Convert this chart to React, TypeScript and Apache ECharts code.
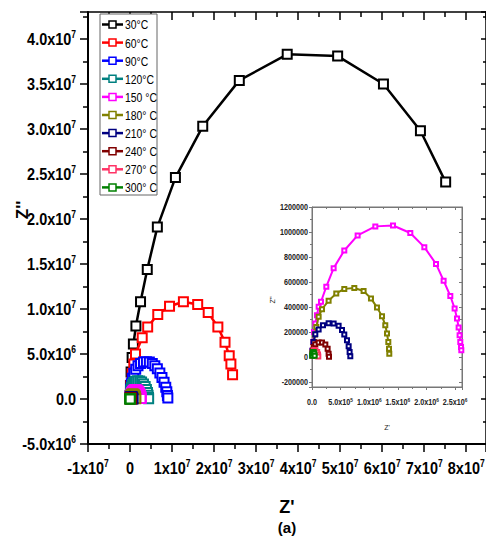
import React, { useEffect, useRef } from "react";
import * as echarts from "echarts";

const seriesNames = ["30°C", "60°C", "90°C", "120°C", "150 °C", "180° C", "210° C", "240° C", "270° C", "300° C"];
const seriesColors = ["#000000", "#ff0000", "#0000ff", "#008080", "#ff00ff", "#808000", "#000080", "#800000", "#ff3366", "#008000"];

// [Z', Z''] pairs
const z30 = [[0.0e6, 0.3e6], [0.1e6, 1.5e6], [0.25e6, 3.0e6], [0.5e6, 4.6e6], [0.8e6, 6.1e6], [1.4e6, 8.1e6], [2.5e6, 10.8e6], [4.1e6, 14.4e6], [6.5e6, 19.1e6], [10.8e6, 24.6e6], [17.3e6, 30.3e6], [26.0e6, 35.4e6], [37.4e6, 38.3e6], [49.4e6, 38.1e6], [60.3e6, 35.0e6], [69.1e6, 29.8e6], [75.1e6, 24.1e6]];
const z60 = [[0.05e6, 0.4e6], [0.2e6, 1.5e6], [0.5e6, 2.8e6], [0.9e6, 3.9e6], [1.3e6, 5.0e6], [2.9e6, 6.8e6], [4.2e6, 8.0e6], [6.6e6, 9.4e6], [9.4e6, 10.3e6], [12.7e6, 10.8e6], [16.1e6, 10.5e6], [18.6e6, 9.6e6], [20.9e6, 8.0e6], [22.6e6, 6.3e6], [23.6e6, 4.8e6], [24.0e6, 3.9e6], [24.4e6, 2.7e6]];
const z90 = [[0.05e6, 0.4e6], [0.15e6, 1.1e6], [0.3e6, 1.7e6], [0.55e6, 2.3e6], [0.9e6, 2.85e6], [1.35e6, 3.3e6], [1.9e6, 3.7e6], [2.5e6, 3.95e6], [3.2e6, 4.1e6], [3.9e6, 4.15e6], [4.6e6, 4.1e6], [5.3e6, 3.95e6], [5.9e6, 3.7e6], [6.5e6, 3.35e6], [7.1e6, 2.9e6], [7.6e6, 2.4e6], [8.1e6, 1.85e6], [8.5e6, 1.3e6], [8.75e6, 0.8e6], [8.9e6, 0.4e6], [9.0e6, 0.1e6]];
const z120 = [[0.05e6, 0.3e6], [0.1e6, 0.7e6], [0.2e6, 1.0e6], [0.35e6, 1.3e6], [0.6e6, 1.6e6], [0.9e6, 1.82e6], [1.3e6, 1.97e6], [1.8e6, 2.03e6], [2.3e6, 2.0e6], [2.75e6, 1.88e6], [3.2e6, 1.66e6], [3.6e6, 1.38e6], [3.9e6, 1.06e6], [4.15e6, 0.72e6], [4.3e6, 0.42e6], [4.4e6, 0.18e6], [4.43e6, 0.04e6]];
const z150 = [[0.01e6, 0.05e6], [0.02e6, 0.12e6], [0.035e6, 0.2e6], [0.058e6, 0.268e6], [0.087e6, 0.335e6], [0.116e6, 0.402e6], [0.157e6, 0.442e6], [0.25e6, 0.563e6], [0.378e6, 0.711e6], [0.564e6, 0.852e6], [0.797e6, 0.973e6], [1.106e6, 1.045e6], [1.415e6, 1.052e6], [1.717e6, 0.992e6], [1.962e6, 0.879e6], [2.166e6, 0.745e6], [2.299e6, 0.611e6], [2.416e6, 0.488e6], [2.491e6, 0.389e6], [2.533e6, 0.309e6], [2.561e6, 0.236e6], [2.578e6, 0.174e6], [2.59e6, 0.121e6], [2.603e6, 0.08e6], [2.608e6, 0.054e6]];
const z180 = [[0.01e6, 0.04e6], [0.03e6, 0.12e6], [0.05e6, 0.18e6], [0.075e6, 0.241e6], [0.116e6, 0.322e6], [0.175e6, 0.383e6], [0.29e6, 0.45e6], [0.424e6, 0.509e6], [0.564e6, 0.545e6], [0.739e6, 0.552e6], [0.901e6, 0.528e6], [1.03e6, 0.469e6], [1.135e6, 0.397e6], [1.223e6, 0.327e6], [1.28e6, 0.255e6], [1.31e6, 0.188e6], [1.333e6, 0.121e6], [1.345e6, 0.067e6], [1.35e6, 0.027e6]];
const z210 = [[0.008e6, 0.05e6], [0.028e6, 0.121e6], [0.058e6, 0.182e6], [0.116e6, 0.22e6], [0.192e6, 0.255e6], [0.29e6, 0.27e6], [0.378e6, 0.268e6], [0.465e6, 0.25e6], [0.524e6, 0.217e6], [0.564e6, 0.18e6], [0.611e6, 0.134e6], [0.64e6, 0.086e6], [0.657e6, 0.04e6], [0.669e6, 0.006e6]];
const z240 = [[0.005e6, 0.014e6], [0.017e6, 0.05e6], [0.03e6, 0.08e6], [0.058e6, 0.102e6], [0.116e6, 0.116e6], [0.175e6, 0.116e6], [0.233e6, 0.1e6], [0.273e6, 0.067e6], [0.29e6, 0.027e6], [0.297e6, 0.002e6]];
const z270 = [[0.005e6, 0.01e6], [0.01e6, 0.035e6], [0.03e6, 0.055e6], [0.06e6, 0.055e6], [0.09e6, 0.04e6], [0.105e6, 0.02e6], [0.11e6, 0.005e6]];
const z300 = [[0.003e6, 0.01e6], [0.008e6, 0.028e6], [0.018e6, 0.04e6], [0.03e6, 0.04e6], [0.04e6, 0.028e6], [0.046e6, 0.01e6]];

const seriesData = [z30, z60, z90, z120, z150, z180, z210, z240, z270, z300];
const insetIndexes = [4, 5, 6, 7, 8, 9];

// tick label values
const mainXTicks = [-1e7, 0, 1e7, 2e7, 3e7, 4e7, 5e7, 6e7, 7e7, 8e7];
const mainYTicks = [-5e6, 0, 5e6, 1e7, 1.5e7, 2e7, 2.5e7, 3e7, 3.5e7, 4e7];
const insetXTicks = [0, 5e5, 1e6, 1.5e6, 2e6, 2.5e6];
const insetYTicks = [-200000, 0, 200000, 400000, 600000, 800000, 1000000, 1200000];

const ARIAL = "'Liberation Sans',Arial,sans-serif";
const MAIN_SCALE = 0.85;
const NARROW_SCALE = 0.8;

const txtMainX = (v: number) => (v === 0 ? "{b|0}" : `{b|${Math.round(v / 1e7)}x10}{s|7}`);
const txtMainY = (v: number) => {
  if (v === 0) return "{b|0.0}";
  const e = Math.abs(v) >= 1e7 ? 7 : 6;
  return `{b|${(v / Math.pow(10, e)).toFixed(1)}x10}{s|${e}}`;
};
const txtInsetX = (v: number) => {
  if (v === 0) return "{b|0.0}";
  const e = Math.abs(v) >= 1e6 ? 6 : 5;
  return `{b|${(v / Math.pow(10, e)).toFixed(1)}x10}{s|${e}}`;
};
const txtInsetY = (v: number) => `{b|${Math.round(v)}}`;

const mainRich = {
  b: { fontSize: 17, fontWeight: "bold", fontFamily: ARIAL, fill: "#000", color: "#000", lineHeight: 19 },
  s: { fontSize: 10, fontWeight: "bold", fontFamily: ARIAL, fill: "#000", color: "#000", verticalAlign: "top", lineHeight: 10 },
};
const insetRich = {
  b: { fontSize: 9, fontWeight: "bold", fontFamily: ARIAL, fill: "#222", color: "#222", lineHeight: 10 },
  s: { fontSize: 6, fontWeight: "bold", fontFamily: ARIAL, fill: "#222", color: "#222", verticalAlign: "top", lineHeight: 6 },
};

export default function App() {
  const ref = useRef<HTMLDivElement>(null);
  useEffect(() => {
    if (!ref.current) return;
    const chart = echarts.init(ref.current, undefined, { renderer: "svg" });

    const mainX = { min: -1e7, max: 8.47e7, interval: 1e7 };
    const mainY = { min: -5e6, max: 4.3e7, interval: 5e6 };
    const insX = { min: 0, max: 2.62e6, interval: 5e5 };
    const insY = { min: -240000, max: 1200000, minInterval: 200000, maxInterval: 200000 };

    const series: any[] = [];
    seriesData.forEach((d, i) => {
      series.push({
        name: seriesNames[i], type: "line", xAxisIndex: 0, yAxisIndex: 0, data: d,
        symbol: "emptyRect", symbolSize: 9, color: seriesColors[i],
        itemStyle: { color: seriesColors[i], borderWidth: 2 },
        lineStyle: { color: seriesColors[i], width: 2.5 },
        z: 3 + i,
      });
    });
    insetIndexes.forEach((i) => {
      series.push({
        name: seriesNames[i], type: "line", xAxisIndex: 2, yAxisIndex: 2, data: seriesData[i],
        symbol: "emptyRect", symbolSize: 4, color: seriesColors[i],
        itemStyle: { color: seriesColors[i], borderWidth: 1 },
        lineStyle: { color: seriesColors[i], width: 2 },
        z: 20 + i,
      });
    });

    const axisBase = (color: string, w: number, inside: boolean, len: number, mlen: number, tw: number) => ({
      axisLine: { show: true, onZero: false, lineStyle: { color, width: w } },
      axisTick: { show: true, inside, length: len, lineStyle: { color, width: tw } },
      minorTick: { show: true, splitNumber: 2, length: mlen, lineStyle: { color, width: tw } },
      splitLine: { show: false },
      axisLabel: { show: false },
    });

    chart.setOption({
      animation: false,
      backgroundColor: "#fff",
      grid: [
        { left: 88, top: 12, width: 398, height: 432, show: false },
        { left: 312, top: 207, width: 150, height: 180, show: true, backgroundColor: "#fff", borderColor: "#777", borderWidth: 1, z: 10 },
      ],
      xAxis: [
        { type: "value", gridIndex: 0, position: "bottom", ...mainX, ...axisBase("#000", 2, false, 8, 5, 1.5) },
        { type: "value", gridIndex: 0, position: "top", ...mainX, ...axisBase("#000", 1.5, true, 8, 5, 1.5) },
        { type: "value", gridIndex: 1, position: "bottom", ...insX, ...axisBase("#777", 1, false, 3, 2, 1), z: 11 },
        { type: "value", gridIndex: 1, position: "top", ...insX, ...axisBase("#777", 1, true, 3, 2, 1), z: 11 },
      ],
      yAxis: [
        { type: "value", gridIndex: 0, position: "left", ...mainY, ...axisBase("#000", 2, false, 8, 5, 1.5) },
        { type: "value", gridIndex: 0, position: "right", ...mainY, ...axisBase("#000", 1.5, true, 5, 3, 1.5) },
        { type: "value", gridIndex: 1, position: "left", ...insY, ...axisBase("#777", 1, false, 3, 2, 1), z: 11 },
        { type: "value", gridIndex: 1, position: "right", ...insY, ...axisBase("#777", 1, true, 3, 2, 1), z: 11 },
      ],
      series,
    });

    const g: any[] = [];
    // main tick labels placed through the axes' own scales
    mainXTicks.forEach((v) => {
      const px = chart.convertToPixel({ xAxisIndex: 0 }, v) as number;
      g.push({ type: "text", x: px, y: 468, scaleX: MAIN_SCALE, z: 50,
        style: { text: txtMainX(v), rich: mainRich, textAlign: "center", textVerticalAlign: "middle" } });
    });
    mainYTicks.forEach((v) => {
      const py = chart.convertToPixel({ yAxisIndex: 0 }, v) as number;
      g.push({ type: "text", x: 76, y: py, scaleX: MAIN_SCALE, z: 50,
        style: { text: txtMainY(v), rich: mainRich, textAlign: "right", textVerticalAlign: "middle" } });
    });
    insetXTicks.forEach((v) => {
      const px = chart.convertToPixel({ xAxisIndex: 2 }, v) as number;
      g.push({ type: "text", x: px, y: 402, scaleX: NARROW_SCALE, z: 50,
        style: { text: txtInsetX(v), rich: insetRich, textAlign: "center", textVerticalAlign: "middle" } });
    });
    insetYTicks.forEach((v) => {
      const py = chart.convertToPixel({ yAxisIndex: 2 }, v) as number;
      g.push({ type: "text", x: 308, y: py, scaleX: NARROW_SCALE, z: 50,
        style: { text: txtInsetY(v), rich: insetRich, textAlign: "right", textVerticalAlign: "middle" } });
    });

    // axis titles
    g.push({ type: "text", x: 22, y: 210, rotation: Math.PI / 2, z: 50,
      style: { text: "Z''", font: `bold 17px ${ARIAL}`, fill: "#000", textAlign: "center", textVerticalAlign: "middle" } });
    g.push({ type: "text", x: 287, y: 507, z: 50,
      style: { text: "Z'", font: `bold 18px ${ARIAL}`, fill: "#000", textAlign: "center", textVerticalAlign: "middle" } });
    g.push({ type: "text", x: 287, y: 527, z: 50,
      style: { text: "(a)", font: `bold 15px ${ARIAL}`, fill: "#000", textAlign: "center", textVerticalAlign: "middle" } });
    g.push({ type: "text", x: 272, y: 300, rotation: Math.PI / 2, z: 50,
      style: { text: "Z''", font: `7px ${ARIAL}`, fill: "#222", textAlign: "center", textVerticalAlign: "middle" } });
    g.push({ type: "text", x: 387, y: 427, z: 50,
      style: { text: "Z'", font: `7px ${ARIAL}`, fill: "#222", textAlign: "center", textVerticalAlign: "middle" } });

    // legend box
    g.push({ type: "rect", z: 60, shape: { x: 100, y: 14, width: 57, height: 181 },
      style: { fill: "#fff", stroke: "#666", lineWidth: 1 } });
    seriesNames.forEach((name, i) => {
      const cy = 24.5 + i * 18.1;
      g.push({ type: "line", z: 61, shape: { x1: 102, y1: cy, x2: 123, y2: cy },
        style: { stroke: seriesColors[i], lineWidth: 2.5 } });
      g.push({ type: "rect", z: 62, shape: { x: 109, y: cy - 3.5, width: 7, height: 7 },
        style: { fill: "#fff", stroke: seriesColors[i], lineWidth: 1.5 } });
      g.push({ type: "text", x: 125, y: cy, scaleX: NARROW_SCALE, z: 62,
        style: { text: name, font: `13px ${ARIAL}`, fill: "#000", textAlign: "left", textVerticalAlign: "middle" } });
    });

    chart.setOption({ graphic: g });
    return () => chart.dispose();
  }, []);
  return <div ref={ref} style={{ position: "fixed", left: 0, top: 0, width: 486, height: 536 }} />;
}
